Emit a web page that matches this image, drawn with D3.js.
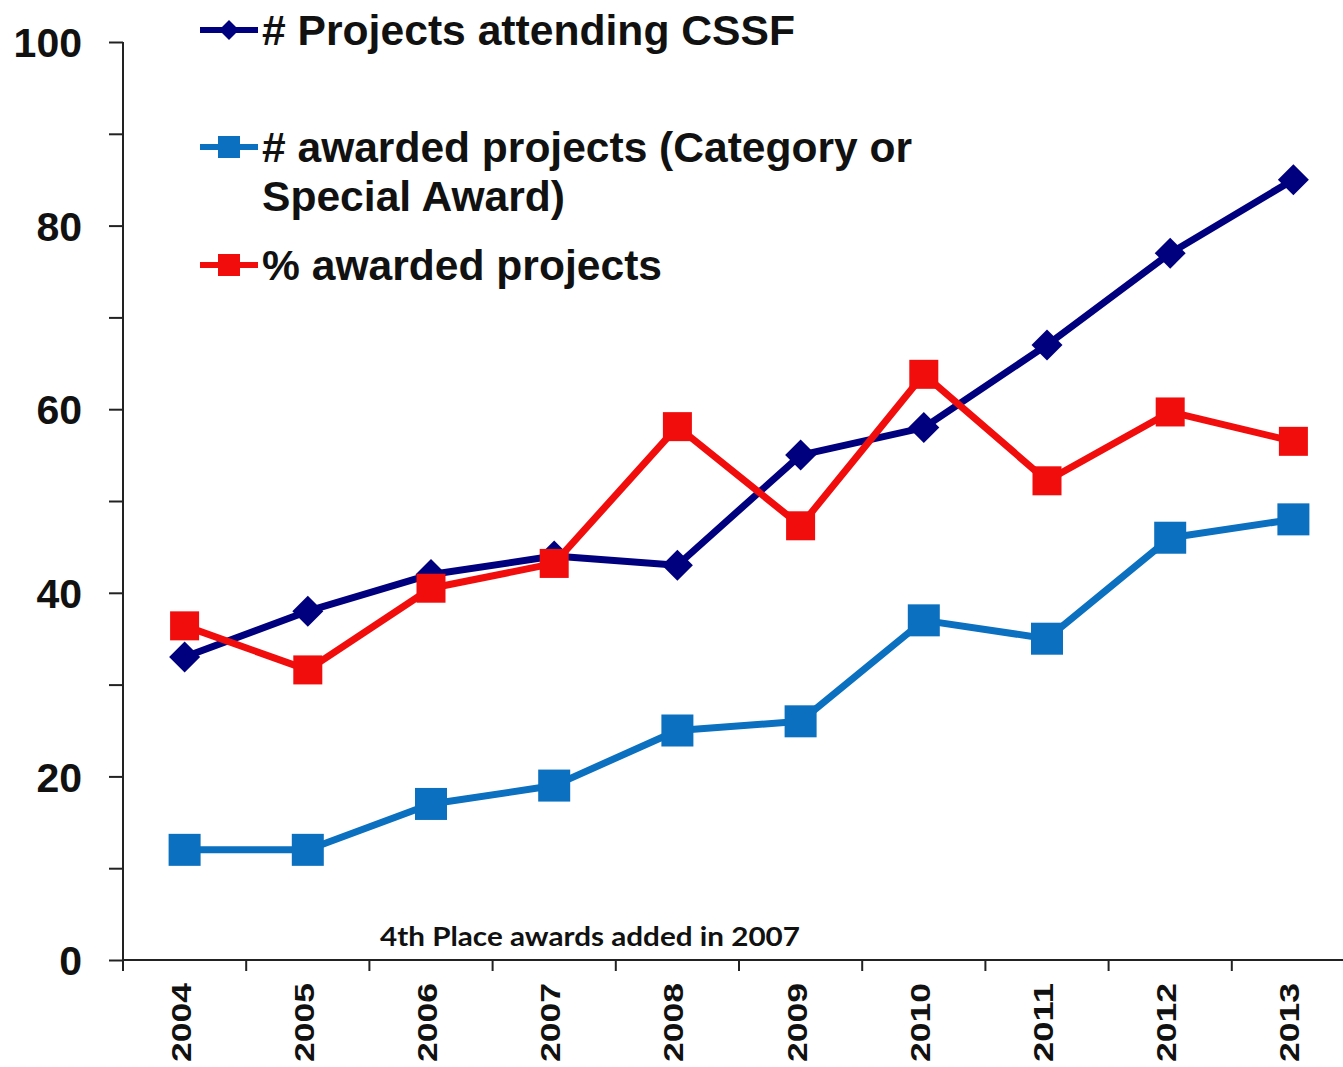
<!DOCTYPE html>
<html>
<head>
<meta charset="utf-8">
<script src="https://cdn.jsdelivr.net/npm/d3@7"></script>
<style>
  html, body { margin: 0; padding: 0; background: #fff; }
  svg { display: block; }
  text { font-family: "Liberation Sans", Arial, sans-serif; }
</style>
</head>
<body>
<svg id="chart" width="1343" height="1067"></svg>
<script>
const years = ["2004","2005","2006","2007","2008","2009","2010","2011","2012","2013"];
const projectsAttending = [33, 38, 42, 44, 43, 55, 58, 67, 77, 85];
const awardedProjects = [12, 12, 17, 19, 25, 26, 37, 35, 46, 48];
const percentAwarded = [36.4, 31.6, 40.5, 43.2, 58.1, 47.3, 63.8, 52.2, 59.7, 56.5];
const yTickValues = [0, 10, 20, 30, 40, 50, 60, 70, 80, 90, 100];
const yLabelValues = [0, 20, 40, 60, 80, 100];
const seriesNames = ["# Projects attending CSSF", "# awarded projects (Category or|Special Award)", "% awarded projects"];
const annotation = "4th Place awards added in 2007";

const colors = ["#00007f", "#0a70bf", "#f20d0d"];

const svg = d3.select("#chart");

const x = d3.scaleBand().domain(years).range([123, 1355]).padding(0);
const y = d3.scaleLinear().domain([0, 100]).range([960, 42]);
const cx = d => x(d) + x.bandwidth() / 2;

// Y axis
const yAxis = d3.axisLeft(y).tickValues(yTickValues).tickSize(14).tickFormat(d => yLabelValues.includes(d) ? d : "");
const gy = svg.append("g").attr("transform", "translate(123,0)").call(yAxis);
gy.select(".domain").attr("stroke", "#222").attr("stroke-width", 2).attr("d", `M0,${y(100)}V${y(0) + 11}`);
gy.selectAll(".tick line").attr("stroke", "#222").attr("stroke-width", 2);
gy.selectAll(".tick text")
  .attr("x", -41)
  .attr("dy", "0.36em")
  .attr("fill", "#111")
  .style("font-size", "41px")
  .style("font-weight", "bold")
  .style("font-family", "'Liberation Sans', Arial, sans-serif");

// X axis line + boundary ticks
const gx = svg.append("g");
gx.append("line").attr("x1", 123).attr("x2", 1343).attr("y1", y(0)).attr("y2", y(0))
  .attr("stroke", "#222").attr("stroke-width", 2);
const bounds = years.map(d => x(d)).concat([x.range()[1]]);
gx.selectAll("line.tick").data(bounds).enter().append("line")
  .attr("class", "tick")
  .attr("x1", d => d).attr("x2", d => d)
  .attr("y1", y(0)).attr("y2", y(0) + 11)
  .attr("stroke", "#222").attr("stroke-width", 2);

gx.selectAll("text.xl").data(years).enter().append("text")
  .attr("class", "xl")
  .attr("transform", d => `translate(${cx(d) + 6},983) rotate(-90)`)
  .attr("text-anchor", "end")
  .attr("textLength", 79)
  .attr("lengthAdjust", "spacingAndGlyphs")
  .attr("fill", "#111")
  .style("font-size", "28px")
  .style("font-weight", "bold")
  .text(d => d);

// annotation
svg.append("text")
  .attr("x", 380).attr("y", 946)
  .attr("textLength", 420)
  .attr("lengthAdjust", "spacingAndGlyphs")
  .attr("fill", "#111")
  .style("font-family", "Lato, 'Open Sans', sans-serif")
  .style("font-size", "27px")
  .style("font-weight", "bold")
  .text(annotation);

const line = d3.line().x((d, i) => cx(years[i])).y(d => y(d));

const diamond = (s) => `M0,${-s}L${s},0L0,${s}L${-s},0Z`;

function drawSeries(values, color, marker, size, lw) {
  const g = svg.append("g");
  g.append("path").datum(values).attr("d", line).attr("fill", "none")
    .attr("stroke", color).attr("stroke-width", lw).attr("stroke-linejoin", "round");
  if (marker === "diamond") {
    g.selectAll("path.m").data(values).enter().append("path").attr("class", "m")
      .attr("transform", (d, i) => `translate(${cx(years[i])},${y(d)})`)
      .attr("d", diamond(size / 2)).attr("fill", color);
  } else {
    g.selectAll("rect.m").data(values).enter().append("rect").attr("class", "m")
      .attr("x", (d, i) => cx(years[i]) - size / 2).attr("y", d => y(d) - size / 2)
      .attr("width", size).attr("height", size).attr("fill", color);
  }
}

drawSeries(projectsAttending, colors[0], "diamond", 31, 7);
drawSeries(awardedProjects, colors[1], "square", 32, 7);
drawSeries(percentAwarded, colors[2], "square", 29, 7);

// Legend
const legendRows = [
  { y: 30, name: seriesNames[0], marker: "diamond", size: 20, lens: [533] },
  { y: 147, name: seriesNames[1], marker: "square", size: 22, lens: [650, 303] },
  { y: 265, name: seriesNames[2], marker: "square", size: 22, lens: [400] }
];
const lg = svg.append("g");
legendRows.forEach((r, i) => {
  lg.append("line").attr("x1", 200).attr("x2", 258).attr("y1", r.y).attr("y2", r.y)
    .attr("stroke", colors[i]).attr("stroke-width", 6);
  if (r.marker === "diamond") {
    lg.append("path").attr("transform", `translate(229,${r.y})`).attr("d", diamond(r.size / 2)).attr("fill", colors[i]);
  } else {
    lg.append("rect").attr("x", 229 - r.size / 2).attr("y", r.y - r.size / 2)
      .attr("width", r.size).attr("height", r.size).attr("fill", colors[i]);
  }
  const lines = r.name.split("|");
  lines.forEach((t, j) => {
    lg.append("text").attr("x", 262).attr("y", r.y + 15 + j * 49)
      .attr("textLength", r.lens[j])
      .attr("lengthAdjust", "spacingAndGlyphs")
      .attr("fill", "#111")
      .style("font-size", "42px").style("font-weight", "bold")
      .text(t);
  });
});
</script>
</body>
</html>
